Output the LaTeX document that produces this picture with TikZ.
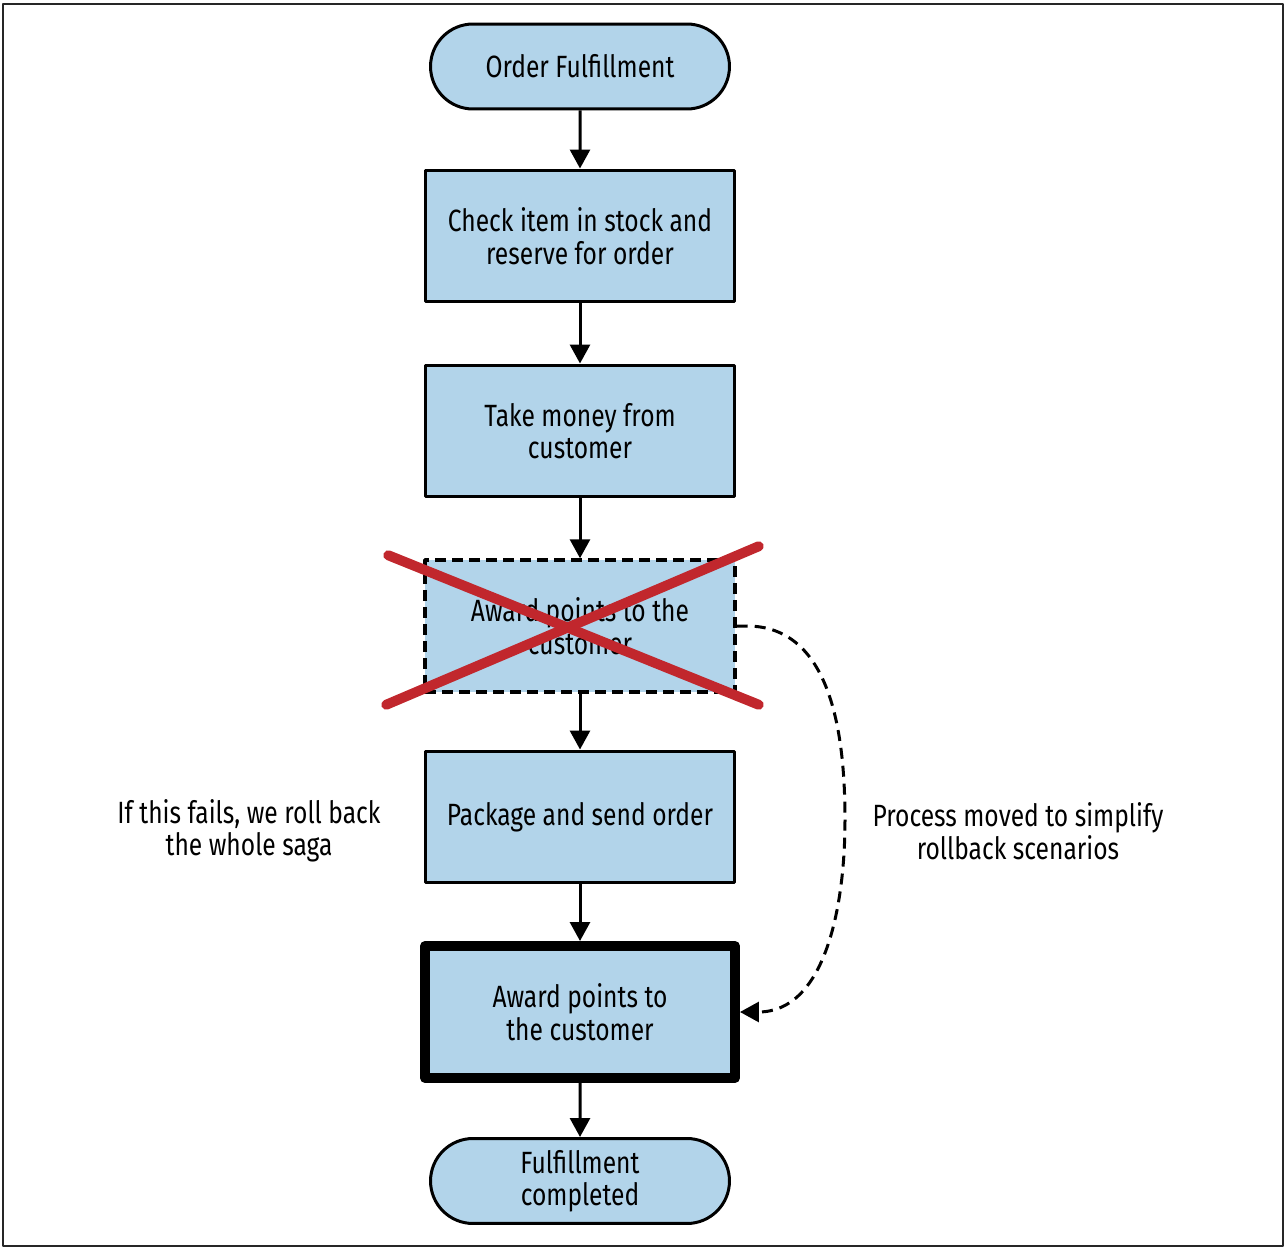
\documentclass[tikz,border=0pt]{standalone}
\usepackage{fontspec}
\setmainfont[FakeStretch=0.8]{Fira Sans}
\usetikzlibrary{shapes.misc,arrows.meta}
\definecolor{boxblue}{RGB}{178,212,234}
\definecolor{crossred}{RGB}{193,39,45}
\begin{document}
\begin{tikzpicture}[x=0.02cm, y=-0.02cm, line join=round,
	font=\fontsize{17.5}{18.5}\selectfont, >={Triangle[width=0.4cm,length=0.38cm]},
	stepbox/.style={draw, line width=0.06cm, fill=boxblue, align=center,
		minimum width=6.2cm, minimum height=2.64cm, inner sep=0pt},
	term/.style={draw, line width=0.06cm, fill=boxblue, align=center,
		rounded rectangle, minimum width=5.98cm, minimum height=1.7cm, inner sep=0pt},
	flow/.style={->, line width=0.06cm},
	cross/.style={line width=0.2cm, crossred, line cap=round}]
	\useasboundingbox (0,0) rectangle (1286,1250);
	\draw[line width=0.04cm, black!85] (3,4) rectangle (1283,1246);
	% main column
	\node[term] (start) at (580,66.5) {Order Fulfillment};
	\node[stepbox] (check) at (580,236) {Check item in stock and\\reserve for order};
	\node[stepbox] (money) at (580,431) {Take money from\\customer};
	\node[stepbox, line width=0.07cm, dash pattern=on 0.22cm off 0.12cm] (oldaward) at (580,626) {Award points to the\\customer};
	\node[stepbox] (package) at (580,817) {Package and send order};
	\node[stepbox, line width=0.2cm] (newaward) at (580,1012) {Award points to\\the customer};
	\node[term] (finish) at (580,1181) {Fulfillment\\completed};
	\draw[flow] (start) -- (check);
	\draw[flow] (check) -- (money);
	\draw[flow] (money) -- (oldaward);
	\draw[flow] (oldaward) -- (package);
	\draw[flow] (package) -- (newaward);
	\draw[flow] (newaward) -- (finish);
	% crossed out step
	\draw[cross] ([shift={(-35,-3)}]oldaward.north west) -- ([shift={(22,11)}]oldaward.south east);
	\draw[cross] ([shift={(-37,11)}]oldaward.south west) -- ([shift={(22,-12)}]oldaward.north east);
	% moved step
	\coordinate (bend) at (845,820);
	\draw[flow, dash pattern=on 0.22cm off 0.14cm] (oldaward.east) -- ++(10,0)
		to[out=0,in=90] (bend) to[out=-90,in=0] (newaward.east);
	\node[align=center] (failnote) at (249,831) {If this fails, we roll back\\the whole saga};
	\node[align=center] (movenote) at (1018,831) {Process moved to simplify\\rollback scenarios};
\end{tikzpicture}
\end{document}
